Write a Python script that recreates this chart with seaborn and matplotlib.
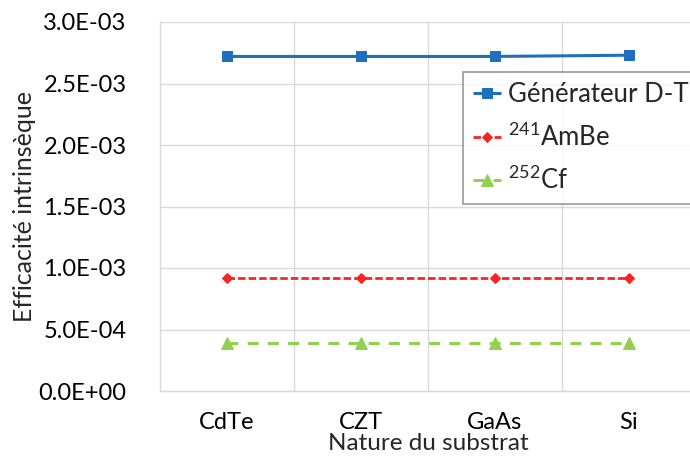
import matplotlib
matplotlib.use("Agg")
import matplotlib.pyplot as plt
import seaborn as sns
import pandas as pd
import numpy as np
from matplotlib.ticker import FuncFormatter

categories = ["CdTe", "CZT", "GaAs", "Si"]
dt_values = [2.72e-3, 2.72e-3, 2.72e-3, 2.73e-3]
dt_err = [3e-5, 3e-5, 3e-5, 3e-5]
ambe_values = [9.2e-4, 9.2e-4, 9.2e-4, 9.2e-4]
cf_values = [3.9e-4, 3.9e-4, 3.9e-4, 3.9e-4]
series_labels = ["Générateur D-T", "$^{241}$AmBe", "$^{252}$Cf"]
y_ticks = [0, 5e-4, 1e-3, 1.5e-3, 2e-3, 2.5e-3, 3e-3]

sns.set_theme(style="white")
plt.rcParams['font.family'] = ['Lato', 'DejaVu Sans']
plt.rcParams['mathtext.fontset'] = 'custom'
plt.rcParams['mathtext.rm'] = 'Lato'

fig = plt.figure(figsize=(6.9, 4.59), dpi=100)
ax = fig.add_axes([160/690, (459-391)/459, 536/690, 369/459])

xpos = np.arange(len(categories))
df = pd.DataFrame({"x": np.tile(xpos, 3),
                   "y": dt_values + ambe_values + cf_values,
                   "s": np.repeat(series_labels, len(categories))})

colors = ["#1f6fbf", "#f52525", "#92d050"]
markers = ["s", "D", "^"]
msizes = [7, 5.5, 8.5]
lstyles = [(0, ()), (0, (2.7, 1.1)), (0, (3.6, 3.0))]
lws = [2.2, 2.0, 2.2]

for lab, c, m, ms, ls, lw in zip(series_labels, colors, markers, msizes, lstyles, lws):
    sub = df[df.s == lab]
    sns.lineplot(data=sub, x="x", y="y", ax=ax, color=c, marker=m, markersize=ms,
                 linestyle=ls, linewidth=lw, markeredgecolor=c, label=lab)

ax.errorbar(xpos, dt_values, yerr=dt_err, fmt="none", ecolor="#1f6fbf",
            elinewidth=1.2, capsize=3, zorder=1)

ax.set_xlim(-0.5, 3.5)
ax.set_ylim(0, 3e-3)
ax.set_yticks(y_ticks)
ax.yaxis.set_major_formatter(FuncFormatter(lambda v, p: f"{v:.1E}"))
ax.set_xticks(xpos)
ax.set_xticklabels(categories)
ax.set_xticks([0.5, 1.5, 2.5, 3.5], minor=True)

ax.grid(True, which="major", axis="y", color="#d9d9d9", linewidth=1)
ax.grid(True, which="minor", axis="x", color="#d9d9d9", linewidth=1)
ax.set_axisbelow(True)
for s in ["top", "right"]:
    ax.spines[s].set_visible(False)
for s in ["left", "bottom"]:
    ax.spines[s].set_color("#d9d9d9")
    ax.spines[s].set_linewidth(1)

ax.tick_params(axis="both", which="both", length=0, labelsize=17, colors="#000000")
ax.tick_params(axis="y", pad=24)
ax.tick_params(axis="x", pad=15)

ax.set_xlabel("Nature du substrat", fontsize=17.5, labelpad=0)
ax.set_ylabel("Efficacité intrinsèque", fontsize=18, labelpad=2)

leg = ax.legend(loc="upper left", bbox_to_anchor=(0.565, 0.8645), fontsize=18.5,
                frameon=True, fancybox=False, edgecolor="#7f7f7f",
                handlelength=1.1, handletextpad=0.25, labelspacing=0.58,
                borderpad=0.4, borderaxespad=0)
leg.get_frame().set_linewidth(1.2)

fig.savefig("out.png", dpi=100)
